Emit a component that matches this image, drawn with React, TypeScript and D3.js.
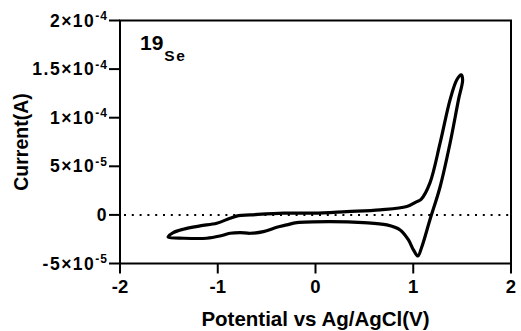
import React from "react";
import * as d3 from "d3";

const potential: number[] = [
  -1.506, -1.455, -1.352, -1.181, -1.01, -0.874, -0.789, -0.669, -0.328, -0.017, 0.32, 0.661, 0.934, 1.037, 1.08,
  1.17, 1.275, 1.377, 1.446, 1.49, 1.505, 1.463, 1.377, 1.275, 1.17, 1.088, 1.047, 1.002, 0.951, 0.866, 0.73, 0.49,
  0.149, -0.191, -0.294, -0.396, -0.533, -0.669, -0.772, -0.874, -0.977, -1.113, -1.352, -1.506,
];
const current: number[] = [
  -2.24e-5, -1.82e-5, -1.47e-5, -1.13e-5, -0.86e-5, -0.34e-5, -0.07e-5, 0, 0.18e-5, 0.18e-5, 0.34e-5, 0.52e-5,
  0.86e-5, 1.37e-5, 1.6e-5, 3.27e-5, 7.4e-5, 11.86e-5, 13.9e-5, 14.4e-5, 13.9e-5, 11.86e-5, 7.4e-5, 2.9e-5,
  -0.52e-5, -3.27e-5, -4.23e-5, -3.6e-5, -2.58e-5, -1.55e-5, -1.03e-5, -0.79e-5, -0.69e-5, -0.79e-5, -1.03e-5,
  -1.27e-5, -1.72e-5, -1.89e-5, -1.82e-5, -1.89e-5, -2.17e-5, -2.4e-5, -2.4e-5, -2.3e-5,
];

const xTicks: number[] = [-2, -1, 0, 1, 2];
const yTicks: number[] = [-5e-5, 0, 5e-5, 1e-4, 1.5e-4, 2e-4];
const yTickMantissa: string[] = ["-5", "0", "5", "1", "1.5", "2"];
const yTickExp: string[] = ["-5", "", "-5", "-4", "-4", "-4"];

const xLabel = "Potential vs Ag/AgCl(V)";
const yLabel = "Current(A)";
const titleMain = "19";
const titleSub = "Se";

export default function App() {
  const left = 120, right = 511, top = 20.5, bottom = 263.5;
  const x = d3.scaleLinear().domain([-2, 2]).range([left, right]);
  const y = d3.scaleLinear().domain([-5e-5, 2e-4]).range([bottom, top]);
  const pts: [number, number][] = potential.map((p, i) => [p, current[i]]);
  const line = d3
    .line<[number, number]>()
    .x((d) => x(d[0]))
    .y((d) => y(d[1]))
    .curve(d3.curveCatmullRomClosed.alpha(0.5));
  const font = "'Liberation Sans', Arial, sans-serif";
  return (
    <svg
      width={521}
      height={331}
      style={{ position: "absolute", left: 0, top: 0, background: "#fff" }}
      fontFamily={font}
      fontWeight="bold"
    >
      <rect x={0} y={0} width={521} height={331} fill="#fff" />
      <line
        x1={x(-2) + 4}
        x2={x(2)}
        y1={y(0)}
        y2={y(0)}
        stroke="#000"
        strokeWidth={2}
        strokeDasharray="2 5.8"
      />
      <path d={line(pts) || ""} fill="none" stroke="#000" strokeWidth={3.2} strokeLinejoin="round" />
      <rect x={left} y={top} width={right - left} height={bottom - top} fill="none" stroke="#000" strokeWidth={2} />
      {yTicks.map((t, i) => (
        <g key={"y" + i}>
          <line x1={left - 11} x2={left} y1={y(t)} y2={y(t)} stroke="#000" strokeWidth={2} />
          <text x={108} y={y(t) + 6} textAnchor="end" fontSize={17.5} fill="#000" letterSpacing={1.5}>
            {yTickMantissa[i]}
            {yTickExp[i] ? "×10" : ""}
            {yTickExp[i] ? (
              <tspan fontSize={12} dy={-6.5} letterSpacing={1}>
                {yTickExp[i]}
              </tspan>
            ) : null}
          </text>
        </g>
      ))}
      {xTicks.map((t, i) => (
        <g key={"x" + i}>
          <line x1={x(t)} x2={x(t)} y1={bottom} y2={bottom + 10} stroke="#000" strokeWidth={2} />
          <text x={x(t)} y={293} textAnchor="middle" fontSize={18.5} fill="#000">
            {t < 0 ? "-" + Math.abs(t) : String(t)}
          </text>
        </g>
      ))}
      <text x={(left + right) / 2} y={326} textAnchor="middle" fontSize={20.5} fill="#000">
        {xLabel}
      </text>
      <text
        transform={`translate(28,${(top + bottom) / 2}) rotate(-90)`}
        textAnchor="middle"
        fontSize={19.5}
        fill="#000"
      >
        {yLabel}
      </text>
      <text x={140} y={50} fontSize={21} fill="#000">
        {titleMain}
        <tspan fontSize={15.5} dy={11} dx={1} letterSpacing={1.5}>
          {titleSub}
        </tspan>
      </text>
    </svg>
  );
}
